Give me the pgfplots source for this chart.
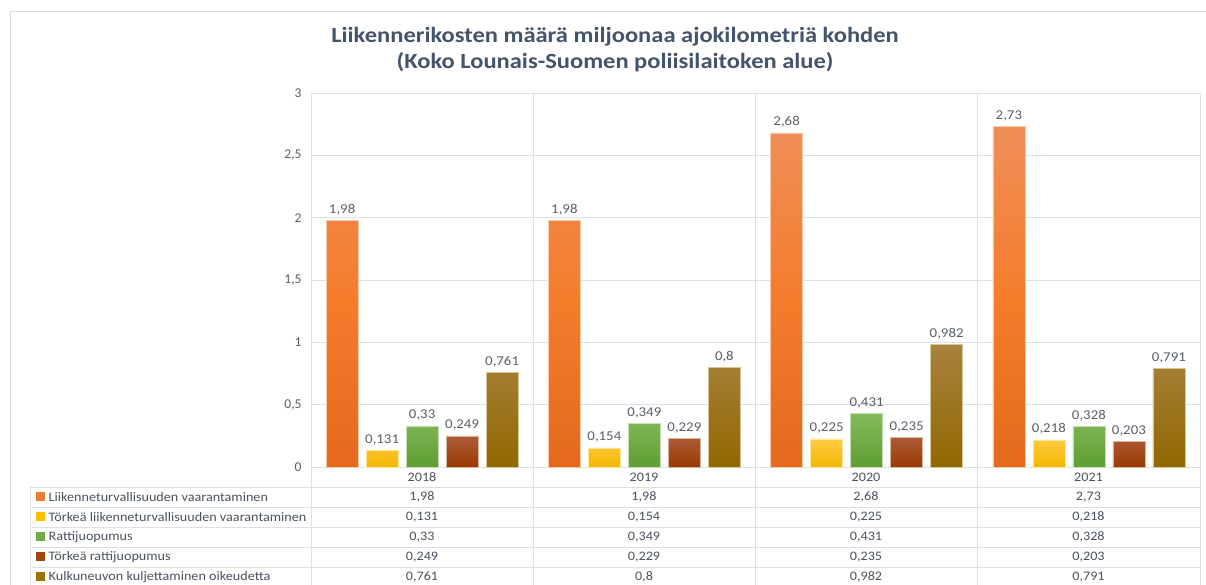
\documentclass[border=0pt]{standalone}
\usepackage{pgfplots}
\pgfplotsset{compat=1.18}
\usepackage{pgfplotstable}
\usepackage{graphicx}
\usepackage{fontspec}
\setmainfont{Carlito}
\definecolor{titlec}{HTML}{44546A}
\definecolor{tickc}{HTML}{595F6A}
\definecolor{tablec}{HTML}{4A5260}
\definecolor{gridc}{HTML}{DCE1E8}
\definecolor{framec}{HTML}{D9DDE3}
\definecolor{cA}{HTML}{ED7D31}
\definecolor{cB}{HTML}{FFC000}
\definecolor{cC}{HTML}{70AD47}
\definecolor{cD}{HTML}{9E480E}
\definecolor{cE}{HTML}{997300}
\definecolor{oTop}{HTML}{F08E58}
\definecolor{oMid}{HTML}{F47D2C}
\definecolor{oBot}{HTML}{E4691C}
\definecolor{yTop}{HTML}{FFCB45}
\definecolor{yBot}{HTML}{F2B800}
\definecolor{gTop}{HTML}{84BB5C}
\definecolor{gBot}{HTML}{5E9E32}
\definecolor{rTop}{HTML}{AD5C3A}
\definecolor{rBot}{HTML}{9A3A02}
\definecolor{kTop}{HTML}{A8823F}
\definecolor{kBot}{HTML}{926800}
\pgfplotstableread{
x L T R TR K
0 1.98 0.131 0.33 0.249 0.761
1 1.98 0.154 0.349 0.229 0.8
2 2.68 0.225 0.431 0.235 0.982
3 2.73 0.218 0.328 0.203 0.791
}\data
\newcommand{\tfont}{\fontsize{13}{13}\selectfont}
\newcommand{\wide}[1]{\scalebox{1.09}[1]{#1}}
\begin{document}
\begin{tikzpicture}[x=1pt,y=1pt]
\useasboundingbox (0,0) rectangle (1206,585);
\fill[white] (0,0) rectangle (1206,585);
\draw[framec, line width=0.8pt] (10,0) -- (10,574) -- (1206,574);
\node[align=center, text=titlec, font=\fontsize{21.7}{26}\selectfont\bfseries] at (615,535)
  {\scalebox{1.13}[1]{Liikennerikosten määrä miljoonaa ajokilometriä kohden}\\\scalebox{1.13}[1]{(Koko Lounais-Suomen poliisilaitoken alue)}};
\begin{axis}[at={(311pt,118pt)}, anchor=south west, scale only axis,
  width=889pt, height=374pt, xmin=-0.5, xmax=3.5, ymin=0, ymax=3,
  ytick={0,0.5,1,1.5,2,2.5,3}, xtick=\empty,
  ymajorgrids, grid style={gridc, line width=0.8pt},
  axis line style={gridc, line width=0.8pt}, major tick length=0pt,
  yticklabel style={font=\fontsize{13.5}{13.5}\selectfont, text=tickc, xshift=-6pt},
  /pgf/number format/.cd, use comma, assume math mode=true, precision=3,
  /pgfplots/.cd,
  ybar=8pt, bar width=32pt, clip=false,
  nodes near coords={\scalebox{1.1}[1]{\pgfmathprintnumber{\pgfplotspointmeta}}},
  nodes near coords style={font=\fontsize{13.5}{13.5}\selectfont, text=tickc, inner sep=5pt}]
\addplot[draw=white!60!cA, line width=0.5pt, top color=oTop, bottom color=oBot, middle color=oMid] table[x=x,y=L]{\data};
\addplot[draw=white!60!cB, line width=0.5pt, top color=yTop, bottom color=yBot] table[x=x,y=T]{\data};
\addplot[draw=white!60!cC, line width=0.5pt, top color=gTop, bottom color=gBot] table[x=x,y=R]{\data};
\addplot[draw=white!60!cD, line width=0.5pt, top color=rTop, bottom color=rBot] table[x=x,y=TR]{\data};
\addplot[draw=white!60!cE, line width=0.5pt, top color=kTop, bottom color=kBot] table[x=x,y=K]{\data};
\end{axis}
% table grid
\begin{scope}[gridc, line width=0.8pt]
\foreach \xx in {311,533,755,977,1200} \draw (\xx,492) -- (\xx,0);
\draw (30,0) -- (30,98);
\foreach \yy in {98,78,58,38,18} \draw (30,\yy) -- (1200,\yy);
\end{scope}
\foreach \xx/\yr in {422/2018,644/2019,866/2020,1088.5/2021}
  \node[font=\tfont, text=tablec] at (\xx,108) {\wide{\yr}};
\foreach \col/\c/\yy/\lab in {L/cA/88/Liikenneturvallisuuden vaarantaminen,
   T/cB/68/Törkeä liikenneturvallisuuden vaarantaminen,
   R/cC/48/Rattijuopumus,
   TR/cD/28/Törkeä rattijuopumus,
   K/cE/8/Kulkuneuvon kuljettaminen oikeudetta}{
  \fill[\c] (36,\yy-4) rectangle (44.5,\yy+4.5);
  \node[anchor=west, font=\tfont, text=tablec, inner sep=0pt] at (48.5,\yy) {\wide{\lab}};
  \foreach \r/\xx in {0/422,1/644,2/866,3/1088.5}{
    \pgfplotstablegetelem{\r}{\col}\of\data
    \node[font=\tfont, text=tablec] at (\xx,\yy) {\wide{\pgfmathprintnumber[use comma, precision=3, assume math mode=true]{\pgfplotsretval}}};
  }
}
\end{tikzpicture}
\end{document}
